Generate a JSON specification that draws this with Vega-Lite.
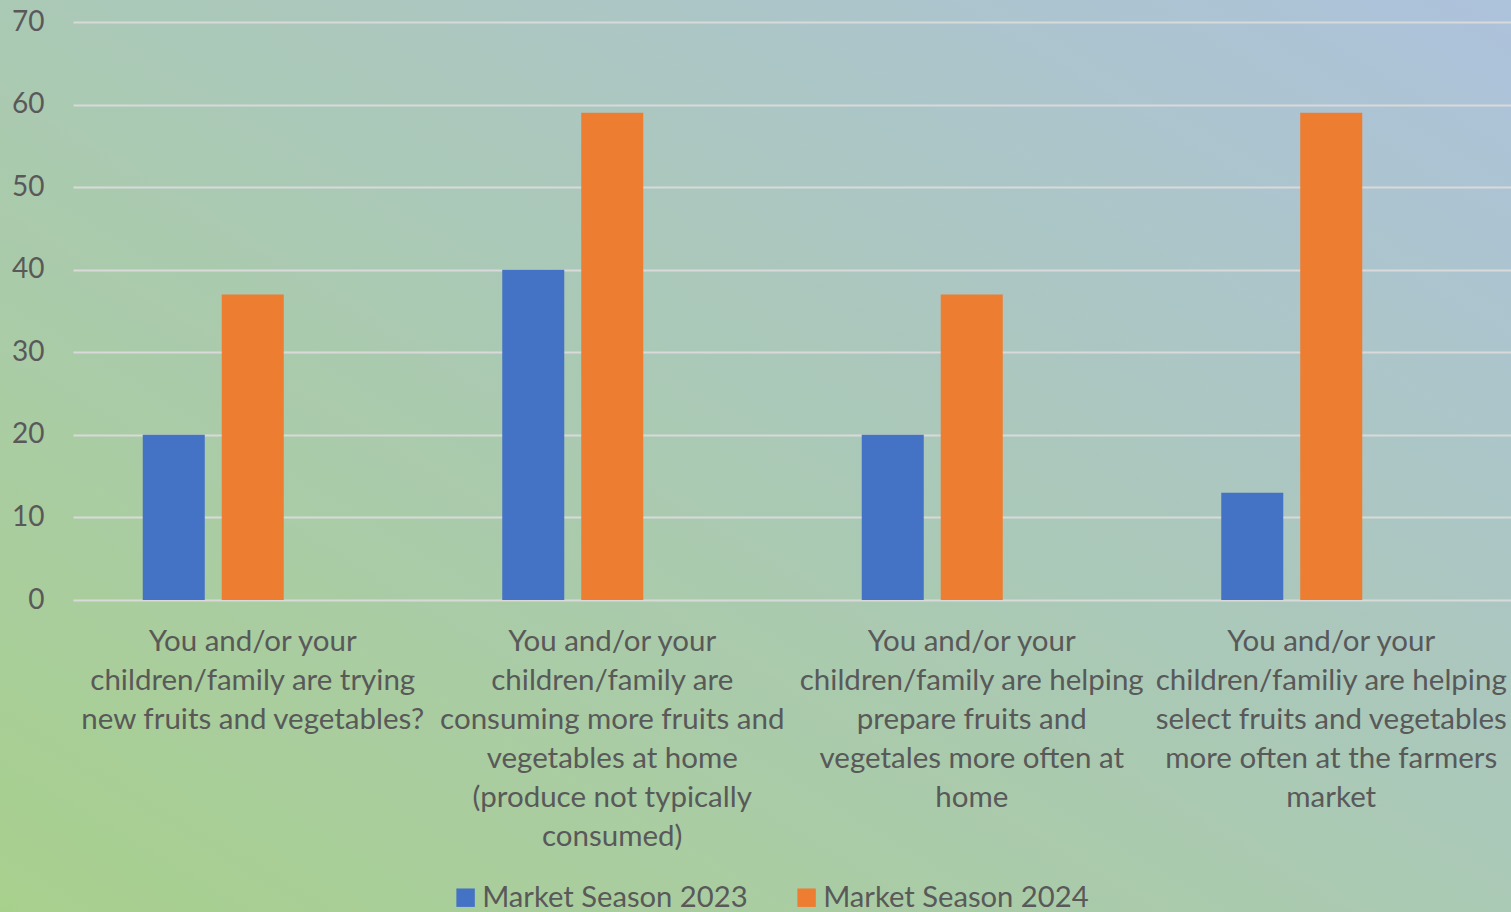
{
  "$schema": "https://vega.github.io/schema/vega-lite/v6.json",
  "width": 1511,
  "height": 912,
  "autosize": {"type": "none"},
  "padding": 0,
  "background": "#aac9b4",
  "config": {
    "font": "Lato",
    "view": {
      "stroke": null,
      "fill": {
        "gradient": "linear",
        "x1": 0, "y1": 1, "x2": 1, "y2": 0,
        "stops": [
          {"offset": 0, "color": "#a8d08d"},
          {"offset": 1, "color": "#adc2dc"}
        ]
      }
    }
  },
  "data": {
    "values": [
      {"category": "You and/or your|children/family are trying|new fruits and vegetables?", "series": "Market Season 2023", "value": 20},
      {"category": "You and/or your|children/family are trying|new fruits and vegetables?", "series": "Market Season 2024", "value": 37},
      {"category": "You and/or your|children/family are|consuming more fruits and|vegetables at home|(produce not typically|consumed)", "series": "Market Season 2023", "value": 40},
      {"category": "You and/or your|children/family are|consuming more fruits and|vegetables at home|(produce not typically|consumed)", "series": "Market Season 2024", "value": 59},
      {"category": "You and/or your|children/family are helping|prepare fruits and|vegetales more often at|home", "series": "Market Season 2023", "value": 20},
      {"category": "You and/or your|children/family are helping|prepare fruits and|vegetales more often at|home", "series": "Market Season 2024", "value": 37},
      {"category": "You and/or your|children/familiy are helping|select fruits and vegetables|more often at the farmers|market", "series": "Market Season 2023", "value": 13},
      {"category": "You and/or your|children/familiy are helping|select fruits and vegetables|more often at the farmers|market", "series": "Market Season 2024", "value": 59}
    ]
  },
  "mark": {"type": "bar"},
  "encoding": {
    "x": {
      "field": "category",
      "type": "nominal",
      "sort": null,
      "scale": {"range": [73, 1511], "paddingInner": 0, "paddingOuter": 0},
      "axis": {
        "title": null,
        "orient": "bottom",
        "offset": -312,
        "domain": false,
        "ticks": false,
        "grid": false,
        "labelAngle": 0,
        "labelAlign": "center",
        "labelBaseline": "top",
        "labelPadding": 27,
        "labelFontSize": 29.5,
        "labelLineHeight": 39,
        "labelColor": "#595959",
        "labelLimit": 0,
        "labelOverlap": false,
        "labelExpr": "split(datum.label, '|')"
      }
    },
    "xOffset": {
      "field": "series",
      "type": "nominal",
      "scale": {
        "domain": ["Market Season 2023", "Market Season 2024", "Market Season 2025"],
        "paddingInner": 0.215,
        "paddingOuter": 0.883
      }
    },
    "y": {
      "field": "value",
      "type": "quantitative",
      "scale": {"domain": [0, 70], "range": [600, 22], "nice": false},
      "axis": {
        "title": null,
        "orient": "left",
        "offset": -73,
        "values": [0, 10, 20, 30, 40, 50, 60, 70],
        "domain": false,
        "ticks": false,
        "grid": true,
        "gridColor": "#d9d9d9",
        "gridWidth": 2,
        "labelFontSize": 28,
        "labelColor": "#595959",
        "labelPadding": 29,
        "labelDy": 3
      }
    },
    "color": {
      "field": "series",
      "type": "nominal",
      "scale": {
        "domain": ["Market Season 2023", "Market Season 2024"],
        "range": ["#4472c4", "#ed7d31"]
      },
      "legend": {
        "title": null,
        "orient": "none",
        "direction": "horizontal",
        "legendX": 451,
        "legendY": 883,
        "symbolType": "square",
        "symbolSize": 340,
        "symbolStrokeWidth": 0,
        "symbolOpacity": 1,
        "labelFontSize": 29.2,
        "labelColor": "#595959",
        "labelOffset": 2,
        "columnPadding": 44,
        "labelLimit": 0
      }
    }
  }
}
